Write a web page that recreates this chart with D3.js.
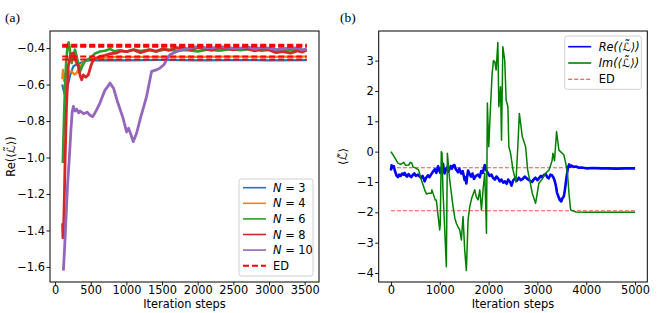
<!DOCTYPE html>
<html>
<head>
<meta charset="utf-8">
<script src="https://cdn.jsdelivr.net/npm/d3@7"></script>
<style>
  body { margin: 0; background: #fff; }
  svg { font-family: "DejaVu Sans", sans-serif; }
  .tick text { font-size: 11.4px; fill: #000; }
</style>
</head>
<body>
<div id="chart"></div>
<script>
// ---- panel (a): Re<L> vs iteration, one series per N ----
const seriesN = ["3", "4", "6", "8", "10"];
const seriesColors = ["#1f77b4", "#ff7f0e", "#2ca02c", "#d62728", "#9467bd"];
const edValuesA = [-0.463, -0.446, -0.393, -0.387, -0.382];
const edStartA = 100, edEndA = 3530;

const n3 = [[100,-0.60],[125,-0.64],[150,-0.67],[175,-0.61],[210,-0.55],[256,-0.50],[300,-0.49],[350,-0.482],[420,-0.472],[490,-0.466],[600,-0.468],[800,-0.466],[1000,-0.467],[1500,-0.465],[2000,-0.467],[2500,-0.466],[3000,-0.467],[3530,-0.466]];
const n4 = [[100,-0.57],[110,-0.52],[125,-0.58],[140,-0.54],[164,-0.556],[190,-0.53],[233,-0.528],[270,-0.545],[303,-0.537],[330,-0.51],[350,-0.50],[400,-0.48],[443,-0.464],[500,-0.46],[630,-0.455],[800,-0.45],[1000,-0.449],[1500,-0.448],[2000,-0.448],[2500,-0.447],[3000,-0.448],[3530,-0.447]];
const n6 = [[108,-1.03],[115,-0.92],[125,-0.78],[140,-0.60],[155,-0.48],[172,-0.40],[190,-0.369],[205,-0.40],[220,-0.46],[233,-0.482],[255,-0.44],[280,-0.409],[310,-0.46],[350,-0.529],[380,-0.50],[420,-0.47],[490,-0.455],[560,-0.43],[630,-0.419],[700,-0.415],[770,-0.405],[830,-0.418],[900,-0.412],[1000,-0.42],[1100,-0.408],[1200,-0.416],[1300,-0.41],[1400,-0.418],[1550,-0.408],[1700,-0.415],[1850,-0.41],[2000,-0.418],[2150,-0.408],[2300,-0.414],[2450,-0.406],[2600,-0.412],[2750,-0.405],[2900,-0.414],[3050,-0.408],[3200,-0.415],[3350,-0.41],[3530,-0.412]];
const n8 = [[105,-1.36],[110,-1.44],[118,-1.40],[128,-1.25],[140,-1.02],[160,-0.72],[185,-0.50],[210,-0.446],[235,-0.43],[256,-0.427],[290,-0.47],[326,-0.50],[350,-0.55],[373,-0.574],[396,-0.547],[430,-0.56],[466,-0.547],[500,-0.50],[536,-0.464],[580,-0.455],[630,-0.446],[700,-0.44],[780,-0.43],[863,-0.427],[930,-0.415],[1000,-0.42],[1100,-0.41],[1200,-0.425],[1330,-0.409],[1420,-0.418],[1500,-0.405],[1600,-0.412],[1700,-0.398],[1796,-0.40],[1900,-0.41],[2000,-0.398],[2100,-0.405],[2200,-0.412],[2300,-0.398],[2400,-0.40],[2500,-0.41],[2600,-0.402],[2700,-0.405],[2800,-0.415],[2900,-0.405],[3000,-0.41],[3100,-0.425],[3200,-0.42],[3300,-0.428],[3400,-0.415],[3470,-0.422],[3530,-0.41]];
const n10 = [[116,-1.62],[125,-1.56],[150,-1.36],[175,-1.15],[200,-1.0],[222,-0.85],[240,-0.75],[256,-0.72],[280,-0.745],[303,-0.735],[330,-0.755],[350,-0.745],[400,-0.76],[450,-0.752],[490,-0.768],[530,-0.776],[580,-0.74],[630,-0.70],[700,-0.63],[740,-0.61],[770,-0.592],[820,-0.62],[880,-0.70],[950,-0.78],[1003,-0.86],[1030,-0.84],[1060,-0.87],[1096,-0.913],[1143,-0.867],[1200,-0.78],[1283,-0.666],[1353,-0.528],[1420,-0.52],[1470,-0.51],[1530,-0.49],[1563,-0.464],[1610,-0.437],[1700,-0.42],[1780,-0.41],[1850,-0.405],[1940,-0.396],[2030,-0.391],[2100,-0.398],[2200,-0.40],[2300,-0.392],[2400,-0.395],[2500,-0.402],[2600,-0.40],[2700,-0.394],[2800,-0.405],[2900,-0.398],[3000,-0.40],[3100,-0.408],[3200,-0.405],[3300,-0.398],[3400,-0.40],[3470,-0.41],[3530,-0.405]];
const seriesA = [n3, n4, n6, n8, n10];
const widthsA = [2.2, 2.2, 2.6, 2.8, 2.8];
const xTicksA = [0, 500, 1000, 1500, 2000, 2500, 3000, 3500];
const yTicksA = [-1.6, -1.4, -1.2, -1.0, -0.8, -0.6, -0.4];

// ---- panel (b): Re and Im of <L> ----
const reB = [[0,-0.62],[15,-0.45],[40,-0.52],[60,-0.48],[80,-0.62],[100,-0.72],[120,-0.8],[144,-0.84],[170,-0.76],[200,-0.8],[230,-0.72],[260,-0.76],[281,-0.7],[305,-0.78],[330,-0.82],[360,-0.74],[390,-0.8],[418,-0.84],[450,-0.76],[480,-0.72],[510,-0.8],[555,-0.76],[590,-0.82],[620,-0.86],[650,-0.8],[691,-0.98],[720,-0.86],[760,-0.78],[790,-0.84],[828,-0.74],[860,-0.66],[900,-0.58],[930,-0.7],[965,-0.48],[990,-0.62],[1010,-0.7],[1040,-0.52],[1067,-0.4],[1085,-0.62],[1100,-0.72],[1125,-0.58],[1150,-0.52],[1175,-0.66],[1200,-0.58],[1225,-0.48],[1250,-0.56],[1275,-0.46],[1300,-0.44],[1330,-0.58],[1375,-0.68],[1400,-0.56],[1440,-0.72],[1470,-0.64],[1511,-0.94],[1530,-0.84],[1545,-1.05],[1565,-0.78],[1580,-0.62],[1610,-0.74],[1640,-0.82],[1670,-0.72],[1700,-0.9],[1740,-0.8],[1785,-0.76],[1820,-0.84],[1850,-0.64],[1880,-0.7],[1922,-0.44],[1950,-0.6],[1990,-0.72],[2020,-0.8],[2060,-0.76],[2090,-0.86],[2130,-0.92],[2160,-0.82],[2196,-0.88],[2230,-0.98],[2260,-0.92],[2300,-1.02],[2333,-0.98],[2370,-1.06],[2400,-0.92],[2440,-1.0],[2470,-1.12],[2500,-0.96],[2540,-0.88],[2580,-0.96],[2620,-0.86],[2660,-0.94],[2700,-0.9],[2740,-0.82],[2780,-0.88],[2830,-0.94],[2890,-1.0],[2930,-0.9],[2960,-0.86],[3000,-0.94],[3030,-0.88],[3070,-0.8],[3100,-0.84],[3140,-0.76],[3170,-0.74],[3200,-0.84],[3230,-0.88],[3265,-0.76],[3300,-0.78],[3330,-0.86],[3350,-0.94],[3375,-1.1],[3400,-1.34],[3420,-1.44],[3440,-1.52],[3460,-1.6],[3475,-1.58],[3490,-1.64],[3510,-1.54],[3540,-1.48],[3560,-1.3],[3580,-1.04],[3600,-0.8],[3620,-0.58],[3635,-0.48],[3650,-0.42],[3670,-0.5],[3700,-0.46],[3740,-0.5],[3790,-0.49],[3850,-0.53],[3900,-0.52],[4000,-0.55],[4150,-0.54],[4300,-0.55],[4450,-0.55],[4600,-0.56],[4800,-0.55],[5000,-0.55]];
const imB = [[0,0],[60,-0.15],[144,-0.38],[200,-0.42],[260,-0.35],[300,-0.45],[364,-0.44],[400,-0.35],[430,-0.38],[452,-0.5],[520,-0.55],[567,-0.6],[622,-0.93],[670,-1.15],[691,-1.26],[730,-1.4],[770,-1.37],[828,-1.37],[840,-1.26],[906,-1.59],[930,-1.59],[965,-2.1],[999,-2.58],[1010,-2.4],[1032,0],[1046,-0.05],[1066,-1.26],[1100,-2.5],[1135,-3.79],[1156,-0.05],[1200,-0.87],[1240,-1.4],[1272,-1.81],[1310,-2.2],[1340,-2.36],[1380,-2.5],[1409,-2.58],[1443,-2.91],[1477,-2.14],[1511,-3.24],[1545,-3.92],[1580,-2.25],[1614,-1.81],[1660,-1.5],[1717,-1.26],[1750,-1.5],[1785,-1.59],[1820,-1.26],[1854,-1.92],[1890,-1.2],[1922,-0.71],[1957,-2.69],[1975,1.6],[2004,0.16],[2040,1.5],[2073,2.58],[2100,3.0],[2128,2.96],[2155,2.69],[2190,3.6],[2210,1.48],[2245,2.14],[2265,0.38],[2292,3.46],[2330,3.02],[2360,1.70],[2395,1.48],[2415,0.16],[2450,-0.05],[2500,-0.6],[2560,-1.0],[2600,0.2],[2630,1.26],[2690,0.5],[2758,0.16],[2800,-0.6],[2850,-1.0],[2894,-1.37],[2963,-1.7],[3030,-1.04],[3100,-0.9],[3169,-0.71],[3240,-0.6],[3300,-0.3],[3318,-0.05],[3350,-0.3],[3392,0.66],[3440,0.05],[3540,-0.1],[3580,-0.38],[3620,-0.8],[3646,-1.37],[3680,-1.92],[3790,-1.99],[4000,-2.0],[4500,-2.0],[5000,-2.0]];
const edValuesB = [-0.53, -1.95];
const xTicksB = [0, 1000, 2000, 3000, 4000, 5000];
const yTicksB = [-4, -3, -2, -1, 0, 1, 2, 3];

const W = 664, H = 313;
const svg = d3.select('#chart').append('svg')
    .attr('width', W).attr('height', H);

// pad domain like matplotlib (5% each side)
function padded(ext) {
    const m = (ext[1] - ext[0]) * 0.05;
    return [ext[0] - m, ext[1] + m];
}

function drawFrame(g, x, y, xTicks, yTicks, yFmt) {
    const [x0, x1] = x.range();
    const [y1, y0] = y.range();
    const xAxis = g.append('g')
        .attr('transform', `translate(0,${y1})`)
        .call(d3.axisBottom(x).tickValues(xTicks).tickSize(3.5).tickPadding(0.5).tickFormat(d3.format('d')));
    const yAxis = g.append('g')
        .attr('transform', `translate(${x0},0)`)
        .call(d3.axisLeft(y).tickValues(yTicks).tickSize(3.5).tickPadding(1.5).tickFormat(yFmt));
    [xAxis, yAxis].forEach(a => {
        a.select('.domain').remove();
        a.selectAll('.tick line').attr('stroke', '#000').attr('stroke-width', 0.9);
        a.selectAll('.tick text').attr('font-family', '"DejaVu Sans", sans-serif').attr('font-size', 11.4);
    });
    g.append('rect')
        .attr('x', x0).attr('y', y0)
        .attr('width', x1 - x0).attr('height', y1 - y0)
        .attr('fill', 'none').attr('stroke', '#000').attr('stroke-width', 1);
}

// ---------- panel (a) ----------
const allA = seriesA.flat();
const xA = d3.scaleLinear()
    .domain(padded(d3.extent(allA, d => d[0])))
    .range([50, 319]);
const yA = d3.scaleLinear()
    .domain(padded(d3.extent(allA, d => d[1])))
    .range([282, 31]);

const gA = svg.append('g');
const lineA = d3.line().x(d => xA(d[0])).y(d => yA(d[1]));

seriesA.forEach((s, i) => {
    gA.append('path')
        .datum(s)
        .attr('d', lineA)
        .attr('fill', 'none')
        .attr('stroke', seriesColors[i])
        .attr('stroke-width', widthsA[i])
        .attr('stroke-linejoin', 'round');
});

edValuesA.forEach(v => {
    gA.append('line')
        .attr('x1', xA(edStartA)).attr('x2', xA(edEndA))
        .attr('y1', yA(v)).attr('y2', yA(v))
        .attr('stroke', 'red')
        .attr('stroke-width', 2)
        .attr('stroke-dasharray', '6,3');
});

drawFrame(gA, xA, yA, xTicksA, yTicksA, d3.format('.1f'));

gA.append('text')
    .attr('x', (50 + 319) / 2).attr('y', 308)
    .attr('text-anchor', 'middle').attr('font-size', 11.4)
    .text('Iteration steps');
gA.append('text')
    .attr('transform', `translate(15,${(31 + 282) / 2}) rotate(-90)`)
    .attr('text-anchor', 'middle').attr('font-size', 11.4)
    .text('Re(⟨ℒ̃⟩)');
svg.append('text')
    .attr('x', 5).attr('y', 22)
    .attr('font-family', '"Liberation Serif", serif').attr('font-size', 13.5)
    .text('(a)');

// legend (a)
const legA = gA.append('g').attr('transform', 'translate(239,179)');
legA.append('rect')
    .attr('width', 74).attr('height', 97).attr('rx', 2.5)
    .attr('fill', '#fff').attr('fill-opacity', 0.8)
    .attr('stroke', '#d0d0d0').attr('stroke-width', 1);
seriesN.forEach((n, i) => {
    const yy = 8.7 + i * 15.6;
    legA.append('line')
        .attr('x1', 4).attr('x2', 27).attr('y1', yy).attr('y2', yy)
        .attr('stroke', seriesColors[i]).attr('stroke-width', 1.6);
    const t = legA.append('text')
        .attr('x', 34).attr('y', yy + 4).attr('font-size', 11.4);
    t.append('tspan').attr('font-style', 'italic').text('N');
    t.append('tspan').text(' = ' + n);
});
{
    const yy = 8.7 + 5 * 15.6;
    legA.append('line')
        .attr('x1', 4).attr('x2', 27).attr('y1', yy).attr('y2', yy)
        .attr('stroke', 'red').attr('stroke-width', 2).attr('stroke-dasharray', '6,3');
    legA.append('text')
        .attr('x', 34).attr('y', yy + 4).attr('font-size', 11.4)
        .text('ED');
}

// ---------- panel (b) ----------
const allB = reB.concat(imB);
const xB = d3.scaleLinear()
    .domain(padded(d3.extent(allB, d => d[0])))
    .range([378.7, 647.3]);
const yB = d3.scaleLinear()
    .domain(padded(d3.extent(allB, d => d[1])))
    .range([282, 31]);

const gB = svg.append('g');
const lineB = d3.line().x(d => xB(d[0])).y(d => yB(d[1]));

edValuesB.forEach(v => {
    gB.append('line')
        .attr('x1', xB(0)).attr('x2', xB(5000))
        .attr('y1', yB(v)).attr('y2', yB(v))
        .attr('stroke', 'red').attr('stroke-opacity', 0.7)
        .attr('stroke-width', 1.1)
        .attr('stroke-dasharray', '4,2');
});

gB.append('path')
    .datum(reB)
    .attr('d', lineB)
    .attr('fill', 'none').attr('stroke', '#0000ff')
    .attr('stroke-width', 2.6).attr('stroke-linejoin', 'round');
gB.append('path')
    .datum(imB)
    .attr('d', lineB)
    .attr('fill', 'none').attr('stroke', '#008000')
    .attr('stroke-width', 1.5).attr('stroke-linejoin', 'round');

drawFrame(gB, xB, yB, xTicksB, yTicksB, d3.format('d'));

gB.append('text')
    .attr('x', (378.7 + 647.3) / 2).attr('y', 308)
    .attr('text-anchor', 'middle').attr('font-size', 11.4)
    .text('Iteration steps');
gB.append('text')
    .attr('transform', `translate(347,${(31 + 282) / 2}) rotate(-90)`)
    .attr('text-anchor', 'middle').attr('font-size', 11.4)
    .text('⟨ℒ̃⟩');
svg.append('text')
    .attr('x', 340).attr('y', 22)
    .attr('font-family', '"Liberation Serif", serif').attr('font-size', 13.5)
    .text('(b)');

// legend (b)
const legB = gB.append('g').attr('transform', 'translate(564.7,36)');
legB.append('rect')
    .attr('width', 76.6).attr('height', 53.3).attr('rx', 2.5)
    .attr('fill', '#fff').attr('fill-opacity', 0.8)
    .attr('stroke', '#d0d0d0').attr('stroke-width', 1);
const legBItems = [
    {label: 'Re(⟨ℒ̃⟩)', color: '#0000ff', italic: true, dash: null, w: 1.6, op: 1},
    {label: 'Im(⟨ℒ̃⟩)', color: '#008000', italic: true, dash: null, w: 1.6, op: 1},
    {label: 'ED', color: 'red', italic: false, dash: '4,2', w: 1.1, op: 0.8}
];
legBItems.forEach((it, i) => {
    const yy = 10.7 + i * 16.3;
    legB.append('line')
        .attr('x1', 3.5).attr('x2', 26.5).attr('y1', yy).attr('y2', yy)
        .attr('stroke', it.color).attr('stroke-width', it.w)
        .attr('stroke-opacity', it.op)
        .attr('stroke-dasharray', it.dash);
    legB.append('text')
        .attr('x', 34).attr('y', yy + 4).attr('font-size', 11.4)
        .attr('font-style', it.italic ? 'italic' : 'normal')
        .text(it.label);
});
</script>
</body>
</html>
